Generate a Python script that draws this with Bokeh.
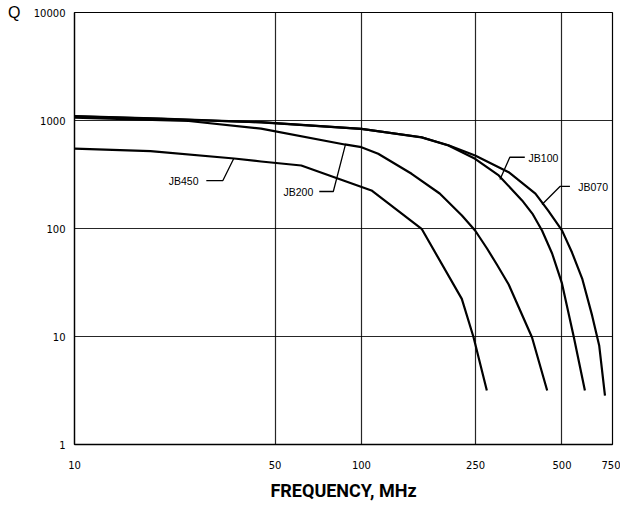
from bokeh.plotting import figure
from bokeh.models import Range1d, FixedTicker, LogAxis
from bokeh.core.properties import value
from bokeh.embed import file_html
from bokeh.resources import INLINE

# ---- data ----
jb070_f = [10, 20, 44.7, 100, 162, 201, 249, 326, 404, 447, 500, 542, 588, 637, 674, 706]
jb070_q = [1100, 1040, 964, 838, 700, 590, 474, 332, 210, 147, 96, 59.9, 34.4, 15.6, 8.26, 2.84]

jb100_f = [10, 20, 44.7, 100, 162, 201, 249, 301, 363, 396, 426, 462, 500, 550, 601]
jb100_q = [1090, 1035, 960, 835, 698, 587, 442, 310, 182, 135, 95.8, 58.7, 31.0, 9.85, 3.16]

jb200_f = [10, 20, 25, 44.7, 87.4, 100, 114.4, 149.6, 187.4, 224, 249, 274, 296.5, 326, 393, 444]
jb200_q = [1060, 1010, 990, 840, 600, 566, 492, 321, 211, 132, 95.8, 65.3, 46.4, 30.3, 9.85, 3.16]

jb450_f = [10, 18.4, 36, 44.7, 61.7, 108.4, 162.1, 223.8, 245.9, 273.6]
jb450_q = [550, 520, 445, 417, 383, 225, 99.4, 22.3, 9.85, 3.16]

# label texts and anchors
label_text = ["JB450", "JB200", "JB100", "JB070"]
label_f = [24.0, 60.3, 431, 642]
label_q = [278, 220, 454, 241]

# leader lines (text end -> elbow -> curve)
lead450_f = [28.8, 32.9, 35.9]
lead450_q = [278, 278, 445]
lead200_f = [71.3, 79.8, 88]
lead200_q = [220, 220, 600]
lead100_f = [371, 329, 304]
lead100_q = [457, 457, 284]
lead070_f = [533, 492, 426]
lead070_q = [245, 245, 167]

x_ticks = [10, 50, 100, 250, 500, 750]
y_ticks = [1, 10, 100, 1000, 10000]
x_grid = [50, 100, 250, 500]
y_grid = [10, 100, 1000]
y_title = "Q"

p = figure(width=620, height=506, x_axis_type="log", y_axis_type="log",
           x_range=Range1d(10, 750), y_range=Range1d(1, 10000),
           output_backend="svg", toolbar_location=None,
           min_border_left=74, min_border_right=8, min_border_top=12,
           min_border_bottom=62)
p.background_fill_color = "white"
p.border_fill_color = "white"
p.outline_line_color = "black"
p.outline_line_width = 1.2

for ax in (p.xaxis[0], p.yaxis[0]):
    ax.major_tick_in = 0
    ax.major_tick_out = 0
    ax.minor_tick_in = 0
    ax.minor_tick_out = 0
    ax.axis_line_color = "black"
    ax.axis_line_width = 1.3
    ax.major_label_text_font = "DejaVu Sans"
    ax.major_label_text_font_size = "10px"
    ax.major_label_text_color = "black"

p.xaxis.ticker = FixedTicker(ticks=x_ticks)
p.yaxis.ticker = FixedTicker(ticks=y_ticks)
p.xaxis.major_label_overrides = {t: str(t) for t in x_ticks}
p.yaxis.major_label_overrides = {t: str(t) for t in y_ticks}
p.xaxis.major_label_standoff = 16
p.yaxis.major_label_standoff = 9

p.xaxis.axis_label = "FREQUENCY, MHz"
p.xaxis.axis_label_text_font = "Roboto"
p.xaxis.axis_label_text_font_style = "bold"
p.xaxis.axis_label_text_font_size = "18px"
p.xaxis.axis_label_text_color = "black"
p.xaxis.axis_label_standoff = 8

# "Q" as a second left axis with a single tick at the top
qaxis = LogAxis(ticker=FixedTicker(ticks=[10000]),
                major_label_overrides={10000: y_title},
                axis_line_color=None, major_tick_in=0, major_tick_out=0,
                minor_tick_in=0, minor_tick_out=0,
                major_label_text_font="Liberation Sans",
                major_label_text_font_size="16px",
                major_label_text_color="black",
                major_label_standoff=10)
p.add_layout(qaxis, "left")

p.xgrid.ticker = FixedTicker(ticks=x_grid)
p.ygrid.ticker = FixedTicker(ticks=y_grid)
p.xgrid.grid_line_color = "black"
p.ygrid.grid_line_color = "black"
p.xgrid.grid_line_width = 1.2
p.ygrid.grid_line_width = 1.2
p.xgrid.grid_line_alpha = 0.85
p.ygrid.grid_line_alpha = 0.85

for fx, qy in ((jb070_f, jb070_q), (jb100_f, jb100_q), (jb200_f, jb200_q), (jb450_f, jb450_q)):
    p.line(fx, qy, line_color="black", line_width=2.2, line_join="round")

for fx, qy in ((lead450_f, lead450_q), (lead200_f, lead200_q), (lead100_f, lead100_q), (lead070_f, lead070_q)):
    p.line(fx, qy, line_color="black", line_width=1.3)

p.text(x=label_f, y=label_q, text=label_text, text_font_size="10.5px",
       text_align="center", text_baseline="middle", text_color="black",
       text_font=value("Liberation Sans"))

open("out.html", "w").write(file_html(p, INLINE))
